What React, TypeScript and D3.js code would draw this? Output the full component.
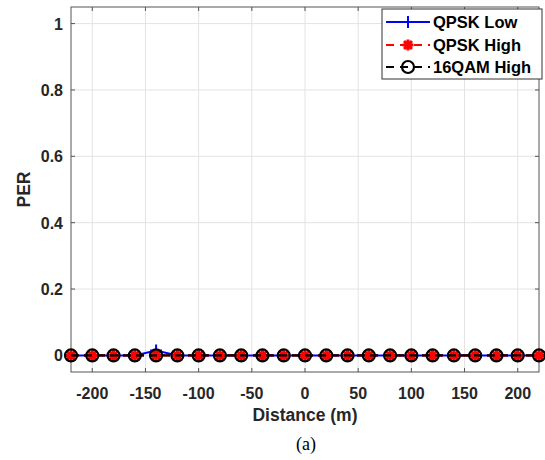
import React from "react";
import * as d3 from "d3";

const distances = [-220, -200, -180, -160, -140, -120, -100, -80, -60, -40, -20, 0, 20, 40, 60, 80, 100, 120, 140, 160, 180, 200, 220];
const qpskLow = [0, 0, 0, 0, 0.015, 0, 0, 0, 0, 0, 0, 0, 0, 0, 0, 0, 0, 0, 0, 0, 0, 0, 0];
const qpskHigh = [0, 0, 0, 0, 0, 0, 0, 0, 0, 0, 0, 0, 0, 0, 0, 0, 0, 0, 0, 0, 0, 0, 0];
const qam16High = [0, 0, 0, 0, 0, 0, 0, 0, 0, 0, 0, 0, 0, 0, 0, 0, 0, 0, 0, 0, 0, 0, 0];
const xTicks = [-200, -150, -100, -50, 0, 50, 100, 150, 200];
const yTicks = [0, 0.2, 0.4, 0.6, 0.8, 1];
const seriesNames = ["QPSK Low", "QPSK High", "16QAM High"];

const W = 545, H = 460;
const L = 71, R = 539, T = 7, B = 372;
const textColor = "#262626";
const font = "'Liberation Sans', Arial, Helvetica, sans-serif";

function Plus({ x, y, color }: { x: number; y: number; color: string }) {
  const r = 6;
  return <path d={`M${x - r},${y}H${x + r}M${x},${y - r}V${y + r}`} stroke={color} strokeWidth={2} fill="none" />;
}
function Star({ x, y, color }: { x: number; y: number; color: string }) {
  const r = 5.5, d = r * 0.72;
  return (
    <path
      d={`M${x - r},${y}H${x + r}M${x},${y - r}V${y + r}M${x - d},${y - d}L${x + d},${y + d}M${x - d},${y + d}L${x + d},${y - d}`}
      stroke={color}
      strokeWidth={3}
      fill="none"
    />
  );
}
function Circ({ x, y, color }: { x: number; y: number; color: string }) {
  return <circle cx={x} cy={y} r={6} stroke={color} strokeWidth={2.2} fill="none" />;
}

export default function App() {
  const x = d3.scaleLinear().domain([-220, 220]).range([L, R]);
  const y = d3.scaleLinear().domain([-0.05, 1.05]).range([B, T]);
  const line = (vals: number[]) =>
    d3.line<number>().x((_, i) => x(distances[i])).y((v) => y(v))(vals) || "";

  const legX = 382, legY = 9, legW = 160, legH = 70;
  const rows = [legY + 13, legY + 36, legY + 58];

  return (
    <svg width={W} height={H} style={{ position: "absolute", left: 0, top: 0, background: "#fff" }} fontFamily={font}>
      <rect x={0} y={0} width={W} height={H} fill="#fff" />
      {/* grid */}
      {xTicks.map((t) => (
        <line key={"gx" + t} x1={x(t)} x2={x(t)} y1={T} y2={B} stroke="#e3e3e3" strokeWidth={1} />
      ))}
      {yTicks.map((t) => (
        <line key={"gy" + t} x1={L} x2={R} y1={y(t)} y2={y(t)} stroke="#e3e3e3" strokeWidth={1} />
      ))}
      {/* box */}
      <rect x={L} y={T} width={R - L} height={B - T} fill="none" stroke="#555" strokeWidth={1} />
      {/* ticks */}
      {xTicks.map((t) => (
        <g key={"tx" + t}>
          <line x1={x(t)} x2={x(t)} y1={B} y2={B - 4} stroke="#555" />
          <line x1={x(t)} x2={x(t)} y1={T} y2={T + 4} stroke="#555" />
          <text x={x(t)} y={B + 27} textAnchor="middle" fontSize={16} fontWeight="bold" fill={textColor}>
            {t}
          </text>
        </g>
      ))}
      {yTicks.map((t) => (
        <g key={"ty" + t}>
          <line x1={L} x2={L + 4} y1={y(t)} y2={y(t)} stroke="#555" />
          <line x1={R} x2={R - 4} y1={y(t)} y2={y(t)} stroke="#555" />
          <text x={L - 8} y={y(t) + 6} textAnchor="end" fontSize={16} fontWeight="bold" fill={textColor}>
            {t}
          </text>
        </g>
      ))}
      <text x={(L + R) / 2} y={421} textAnchor="middle" fontSize={17.5} fontWeight="bold" fill={textColor}>
        Distance (m)
      </text>
      <text transform={`translate(30,${(T + B) / 2}) rotate(-90)`} textAnchor="middle" fontSize={17.5} fontWeight="bold" fill={textColor}>
        PER
      </text>
      <text x={306} y={450} textAnchor="middle" fontSize={18} fontFamily="'Liberation Serif', 'Times New Roman', serif" fill="#000">
        (a)
      </text>

      {/* series */}
      <path d={line(qpskLow)} stroke="#0000ff" strokeWidth={2} fill="none" />
      {qpskLow.map((v, i) => (
        <Plus key={"p" + i} x={x(distances[i])} y={y(v)} color="#0000ff" />
      ))}
      <path d={line(qpskHigh)} stroke="#ff0000" strokeWidth={2} fill="none" strokeDasharray="8,5" />
      {qpskHigh.map((v, i) => (
        <Star key={"s" + i} x={x(distances[i])} y={y(v)} color="#ff0000" />
      ))}
      <path d={line(qam16High)} stroke="#000" strokeWidth={2.2} fill="none" strokeDasharray="8,5" />
      {qam16High.map((v, i) => (
        <Circ key={"c" + i} x={x(distances[i])} y={y(v)} color="#000" />
      ))}

      {/* legend */}
      <rect x={legX} y={legY} width={legW} height={legH} fill="#fff" stroke="#333" strokeWidth={1} />
      <line x1={legX + 4} x2={legX + 48} y1={rows[0]} y2={rows[0]} stroke="#0000ff" strokeWidth={2} />
      <Plus x={legX + 26} y={rows[0]} color="#0000ff" />
      <line x1={legX + 4} x2={legX + 48} y1={rows[1]} y2={rows[1]} stroke="#ff0000" strokeWidth={2.2} strokeDasharray="8,6" />
      <Star x={legX + 26} y={rows[1]} color="#ff0000" />
      <line x1={legX + 4} x2={legX + 48} y1={rows[2]} y2={rows[2]} stroke="#000" strokeWidth={2.2} strokeDasharray="8,6" />
      <Circ x={legX + 26} y={rows[2]} color="#000" />
      {seriesNames.map((n, i) => (
        <text key={n} x={legX + 51} y={rows[i] + 6} fontSize={16.5} fontWeight="bold" fill="#000">
          {n}
        </text>
      ))}
    </svg>
  );
}
